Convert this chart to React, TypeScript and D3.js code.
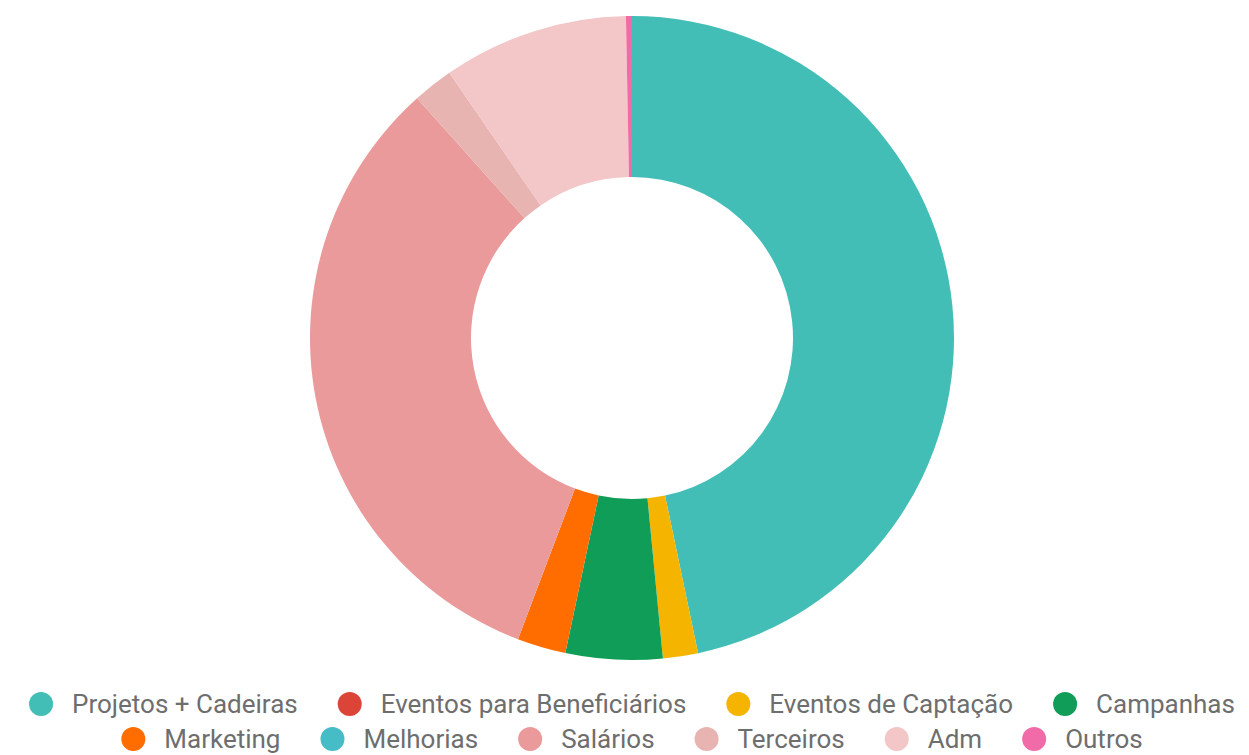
import React, { useEffect, useRef } from "react";
import * as d3 from "d3";

const categories = [
  "Projetos + Cadeiras",
  "Eventos para Beneficiários",
  "Eventos de Captação",
  "Campanhas",
  "Marketing",
  "Melhorias",
  "Salários",
  "Terceiros",
  "Adm",
  "Outros",
];
const values = [46.7, 0, 1.76, 4.85, 2.44, 0, 32.6, 2.03, 9.3, 0.3];
const colors = [
  "#43beb7",
  "#db4437",
  "#f4b400",
  "#0f9d58",
  "#ff6d01",
  "#46bdc6",
  "#ea9a9b",
  "#e8b4b1",
  "#f3c6c8",
  "#f06ba8",
];
const legendRows = [
  [0, 1, 2, 3],
  [4, 5, 6, 7, 8, 9],
];

const W = 1249;
const H = 755;
const CX = 632;
const CY = 338;
const R = 322;
const RI = 161;

export default function App() {
  const ref = useRef<SVGSVGElement>(null);

  useEffect(() => {
    const svg = d3.select(ref.current);
    svg.selectAll("*").remove();

    const data = categories.map((c, i) => ({ c, v: values[i], col: colors[i] }));
    const pie = d3
      .pie<any>()
      .sort(null)
      .value((d) => d.v)
      .startAngle(0)
      .endAngle(2 * Math.PI);
    const arc = d3.arc<any>().innerRadius(RI).outerRadius(R);

    svg
      .append("g")
      .attr("transform", `translate(${CX},${CY})`)
      .selectAll("path")
      .data(pie(data).filter((d) => d.data.v > 0))
      .join("path")
      .attr("d", arc)
      .attr("fill", (d) => d.data.col);

    const fontSize = 26;
    const rowY = [704, 739];
    const circleR = 12;
    const circleGap = 19;
    const itemGap = 40;
    legendRows.forEach((row, ri) => {
      const g = svg.append("g");
      let x = 0;
      row.forEach((idx) => {
        const item = g.append("g").attr("transform", `translate(${x},0)`);
        item
          .append("circle")
          .attr("cx", circleR)
          .attr("cy", rowY[ri])
          .attr("r", circleR)
          .attr("fill", colors[idx]);
        const t = item
          .append("text")
          .attr("x", circleR * 2 + circleGap)
          .attr("y", rowY[ri])
          .attr("dy", "0.35em")
          .attr("font-family", "Roboto, sans-serif")
          .attr("font-size", fontSize)
          .attr("fill", "#6e6e6e")
          .text(categories[idx]);
        const tw = (t.node() as SVGTextElement).getComputedTextLength();
        x += circleR * 2 + circleGap + tw + itemGap;
      });
      const total = x - itemGap;
      g.attr("transform", `translate(${CX - total / 2},0)`);
    });
  }, []);

  return (
    <svg
      ref={ref}
      width={W}
      height={H}
      style={{ position: "absolute", left: 0, top: 0, background: "#fff" }}
    />
  );
}
